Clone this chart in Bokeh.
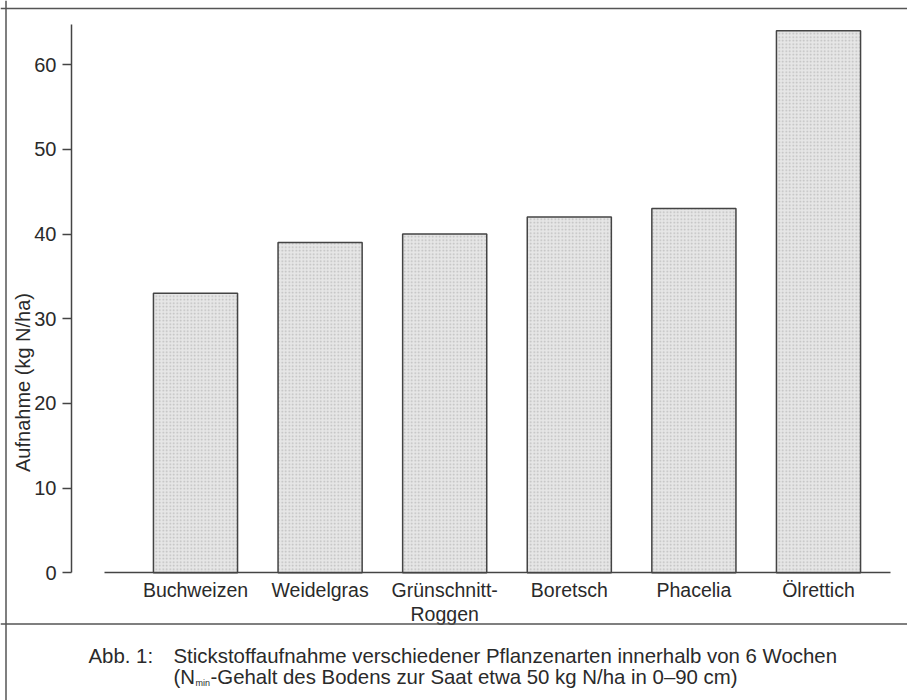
import math
from bokeh.plotting import figure
from bokeh.models import Range1d, LinearAxis, FixedTicker, Span, Label
from bokeh.embed import file_html
from bokeh.resources import INLINE

# ---------------- data ----------------
categories = ["Buchweizen", "Weidelgras", "Grünschnitt-\nRoggen", "Boretsch", "Phacelia", "Ölrettich"]
uptake = [33, 39, 40, 42, 43, 64]
y_ticks = [0, 10, 20, 30, 40, 50, 60]
y_label = "Aufnahme (kg N/ha)"
caption_tag = "Abb. 1:"
caption_line1 = "Stickstoffaufnahme verschiedener Pflanzenarten innerhalb von 6 Wochen"
caption_line2_a = "(N"
caption_line2_sub = "min"
caption_line2_b = "-Gehalt des Bodens zur Saat etwa 50 kg N/ha in 0–90 cm)"

# ---------------- layout helpers (page pixels -> data) ----------------
W, H = 907, 700
PAGE_OFF = 0
X_CENTER0 = 195.0   # page x of first bar centre
X_STEP = 124.6      # page px between bar centres
Y_ZERO = 572.3      # page y of value 0
Y_STEP = 8.47       # page px per unit


def dx(px):
    return (px - X_CENTER0) / X_STEP


def dy(py):
    return (Y_ZERO - py) / Y_STEP


FONT = "Liberation Sans"
TXT = "#2a2a2a"
LINE = "#444444"

p = figure(width=W, height=H,
           x_range=Range1d(dx(PAGE_OFF), dx(PAGE_OFF + W)),
           y_range=Range1d(dy(PAGE_OFF + H), dy(PAGE_OFF)),
           x_axis_type=None, y_axis_type=None,
           toolbar_location=None, output_backend="svg",
           min_border=0, outline_line_color=None)
p.background_fill_color = "white"
p.border_fill_color = "white"

# bars
p.vbar(x=list(range(len(uptake))), top=uptake, bottom=0, width=0.675,
       fill_color="#e6e6e6", line_color=LINE, line_width=1.5,
       hatch_pattern="dot", hatch_color="#a0a0a0", hatch_scale=3.5,
       hatch_weight=0.9, hatch_alpha=0.6)

# x axis (baseline with category labels)
xaxis = LinearAxis(fixed_location=0, bounds=(dx(104), dx(890)),
                   ticker=FixedTicker(ticks=list(range(len(categories)))),
                   major_label_overrides={i: c for i, c in enumerate(categories)},
                   major_tick_out=0, major_tick_in=0, minor_tick_out=0, minor_tick_in=0,
                   major_label_standoff=6,
                   axis_line_color=LINE, axis_line_width=1.5)
xaxis.major_label_text_font = FONT
xaxis.major_label_text_font_size = "19.5px"
xaxis.major_label_text_color = TXT
xaxis.major_label_text_line_height = 1.1
p.add_layout(xaxis, "below")

# y axis
yaxis = LinearAxis(fixed_location=dx(71), bounds=(0, dy(24)),
                   ticker=FixedTicker(ticks=y_ticks),
                   major_tick_out=9, major_tick_in=0, minor_tick_out=0, minor_tick_in=0,
                   major_tick_line_color=LINE, major_tick_line_width=1.5,
                   major_label_standoff=6,
                   axis_line_color=LINE, axis_line_width=1.5)
yaxis.major_label_text_font = FONT
yaxis.major_label_text_font_size = "20px"
yaxis.major_label_text_color = TXT
p.add_layout(yaxis, "left")

# y axis title
p.add_layout(Label(x=dx(22), y=dy(382), text=y_label, angle=math.pi / 2,
                   text_align="center", text_baseline="middle",
                   text_font=FONT, text_font_size="20px", text_color=TXT))

# frame lines
for loc, dim in [(dx(5.5), "height"), (dy(8), "width"), (dy(623.5), "width")]:
    p.add_layout(Span(location=loc, dimension=dim, line_color="#555555", line_width=1.5))

# caption
CAP = "20.4px"
cap_kw = dict(text_font=FONT, text_color=TXT, text_baseline="alphabetic", text_align="left")
p.add_layout(Label(x=dx(88), y=dy(655), text=caption_tag, text_font_size=CAP, **cap_kw))
p.add_layout(Label(x=dx(173), y=dy(655), text=caption_line1, text_font_size=CAP, **cap_kw))
p.add_layout(Label(x=dx(173), y=dy(676), text=caption_line2_a, text_font_size=CAP, **cap_kw))
p.add_layout(Label(x=dx(195), y=dy(682), text=caption_line2_sub, text_font_size="9px", **cap_kw))
p.add_layout(Label(x=dx(210), y=dy(676), text=caption_line2_b, text_font_size=CAP, **cap_kw))

open("out.html", "w").write(file_html(p, INLINE))
